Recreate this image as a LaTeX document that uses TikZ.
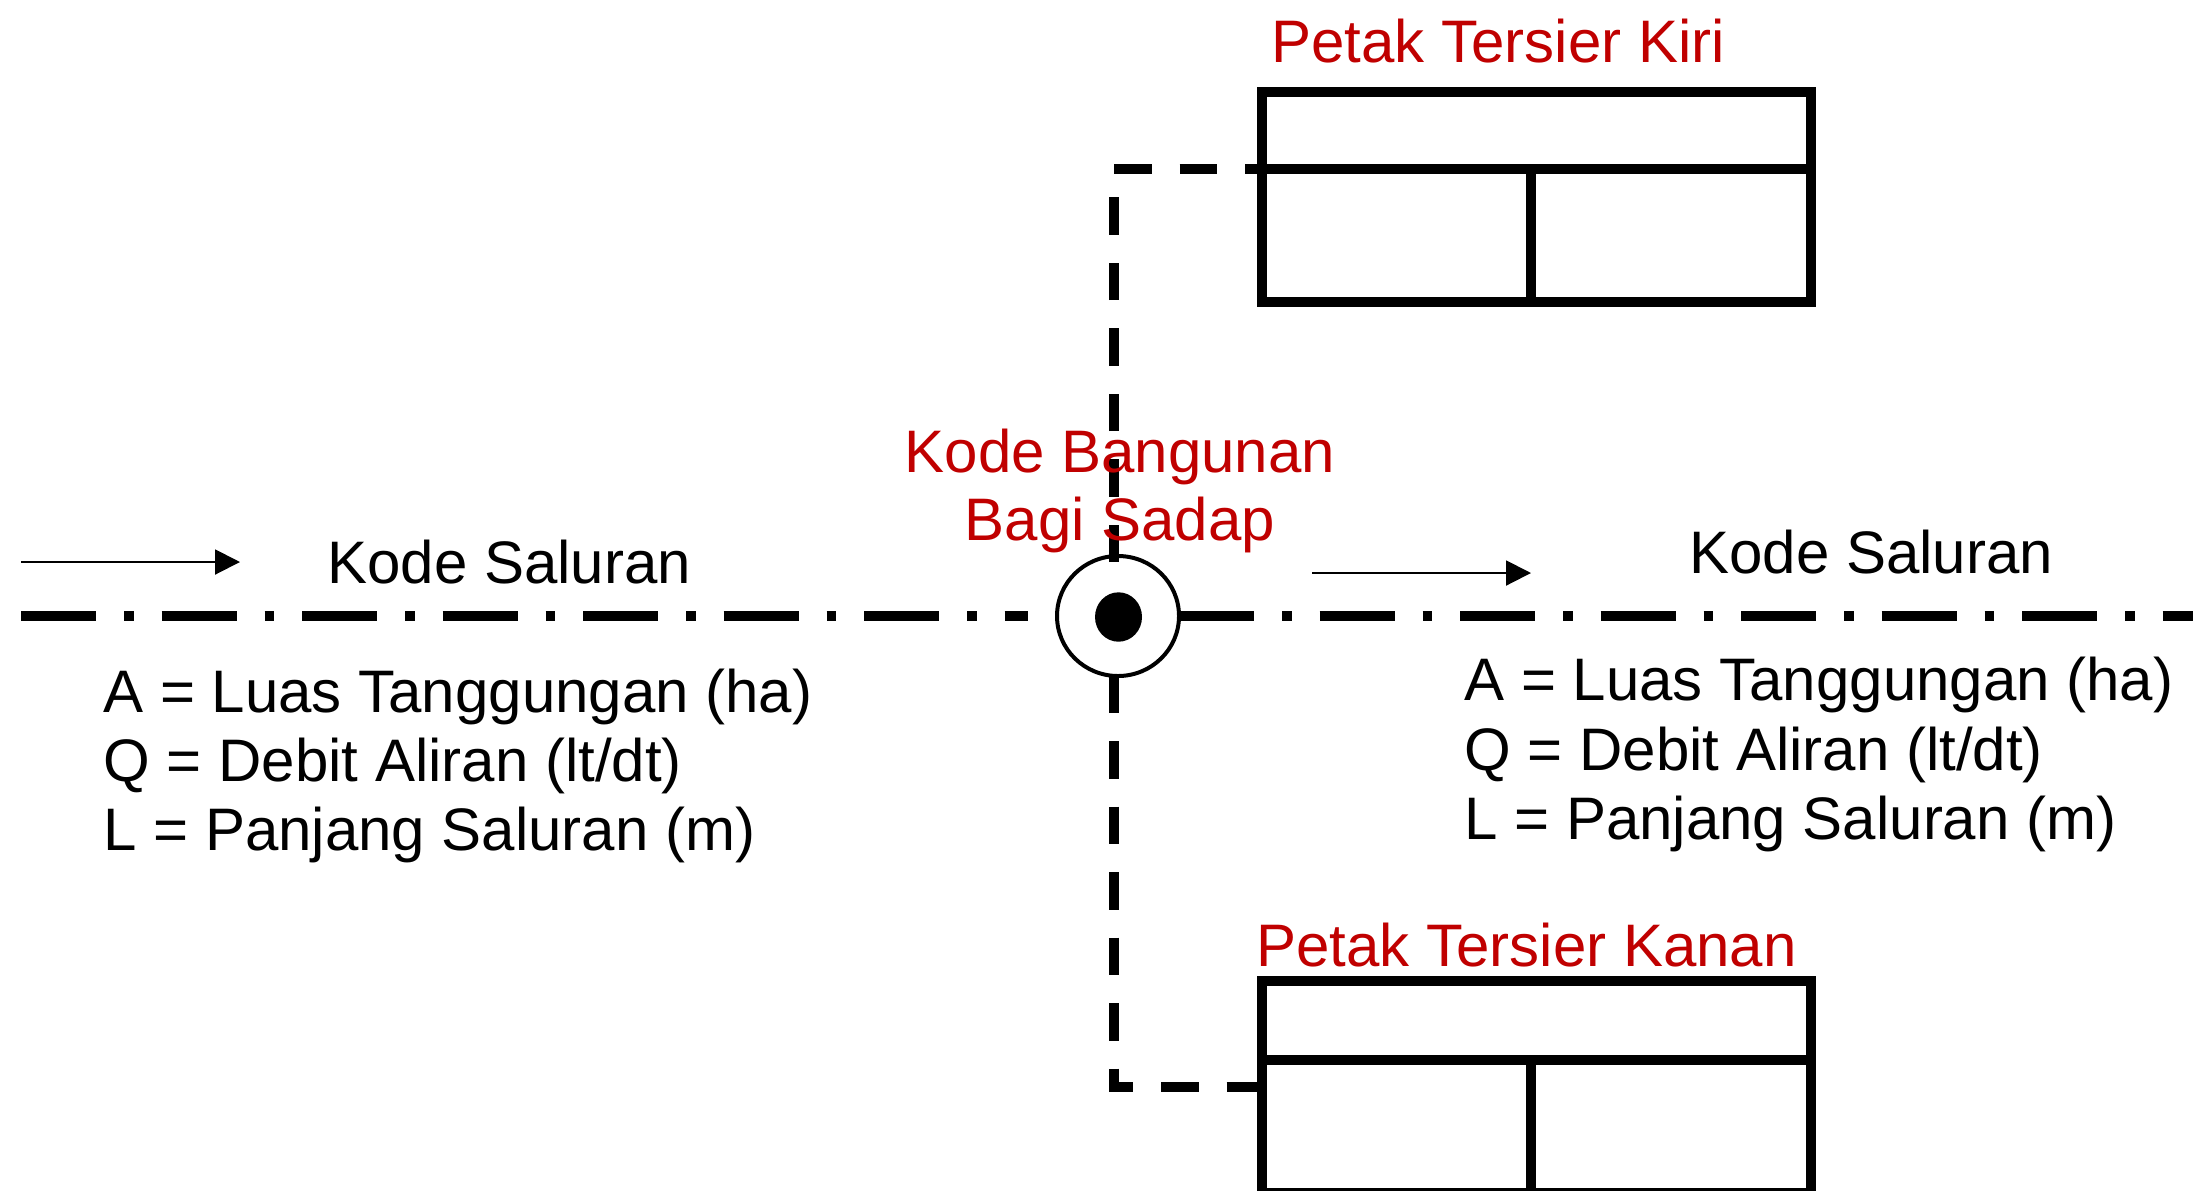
\documentclass[tikz,border=0pt]{standalone}
\usepackage{fontspec}
\setmainfont{Liberation Sans}
\usetikzlibrary{arrows.meta,shapes.geometric}
\definecolor{labelred}{HTML}{C00000}
\tikzset{
  thick line/.style={line width=4.75pt,line cap=butt,line join=miter},
  petak/.style={draw,thick line,rectangle,inner sep=0pt,outer sep=0pt,minimum width=274.5pt},
  branch/.style={thick line,dash pattern=on 18.75pt off 14pt},
  main canal/.style={line width=5pt,dash pattern=on 37.5pt off 14pt on 4.75pt off 14pt},
  flow/.style={line width=1pt,-{Triangle[length=12.5pt,width=12.5pt]}},
  blacktext/.style={anchor=base west,inner sep=0pt,font=\fontsize{30}{36}\selectfont,text=black},
  redtext/.style={inner sep=0pt,font=\fontsize{30}{36}\selectfont,text=labelred},
}
\begin{document}
\begin{tikzpicture}[x=0.5pt,y=-0.5pt]
\clip (0,0) rectangle (2193,1190);
% boxes
\node[petak,minimum height=105pt] (kiri) at (1536.5,197) {};
\node[petak,minimum height=106pt] (kanan) at (1536.5,1087) {};
\coordinate (kiriL) at (1262,169);
\coordinate (kiriR) at (1811,169);
\coordinate (kiriT) at (1531,169);
\coordinate (kiriB) at (1531,302);
\coordinate (kananL) at (1262,1060);
\coordinate (kananR) at (1811,1060);
\coordinate (kananT) at (1531,1060);
\coordinate (kananB) at (1531,1193);
\draw[thick line] (kiriL) -- (kiriR);
\draw[thick line] (kiriT) -- (kiriB);
\draw[thick line] (kananL) -- (kananR);
\draw[thick line] (kananT) -- (kananB);
% structure symbol
\node[ellipse,draw,line width=2pt,fill=white,minimum width=61pt,minimum height=60pt,inner sep=0pt,outer sep=0pt] (bangunan) at (1118,616) {};
\node[ellipse,fill=black,minimum width=23.5pt,minimum height=24.7pt,inner sep=0pt,outer sep=0pt] (titik) at (1118.5,617) {};
% main canal
\coordinate (hulu) at (21,616);
\coordinate (huluEnd) at (1028,616);
\coordinate (hilir) at (2193,616);
\draw[main canal] (hulu) -- (huluEnd);
\draw[main canal] (bangunan.east) -- (hilir);
% branch connectors
\coordinate (naik) at (1114,562);
\coordinate (sudutA) at (1114,169);
\coordinate (turun) at (1114,675.5);
\coordinate (sudutB) at (1114,1087);
\coordinate (masukB) at (1262,1087);
\draw[branch] (naik) -- (sudutA) -- (kiriL);
\draw[branch] (turun) -- (sudutB) -- (masukB);
% flow arrows
\coordinate (a1) at (21,562);
\coordinate (a2) at (240,562);
\coordinate (b1) at (1312,573);
\coordinate (b2) at (1531,573);
\draw[flow] (a1) -- (a2);
\draw[flow] (b1) -- (b2);
% labels
\node[redtext,anchor=base west] (tKiri) at (1271,62) {Petak Tersier Kiri};
\node[redtext,anchor=base west] (tKanan) at (1256,966) {Petak Tersier Kanan};
\node[redtext,anchor=base] (tKode) at (1120,472) {Kode Bangunan};
\node[redtext,anchor=base] (tBagi) at (1120,540) {Bagi Sadap};
\node[blacktext] (sL) at (327,583) {Kode Saluran};
\node[blacktext] (sR) at (1689,573) {Kode Saluran};
\node[blacktext] (l1) at (103,712) {A = Luas Tanggungan (ha)};
\node[blacktext] (l2) at (103,781) {Q = Debit Aliran (lt/dt)};
\node[blacktext] (l3) at (103,850) {L = Panjang Saluran (m)};
\node[blacktext] (r1) at (1464,700) {A = Luas Tanggungan (ha)};
\node[blacktext] (r2) at (1464,770) {Q = Debit Aliran (lt/dt)};
\node[blacktext] (r3) at (1464,839) {L = Panjang Saluran (m)};
\end{tikzpicture}
\end{document}
